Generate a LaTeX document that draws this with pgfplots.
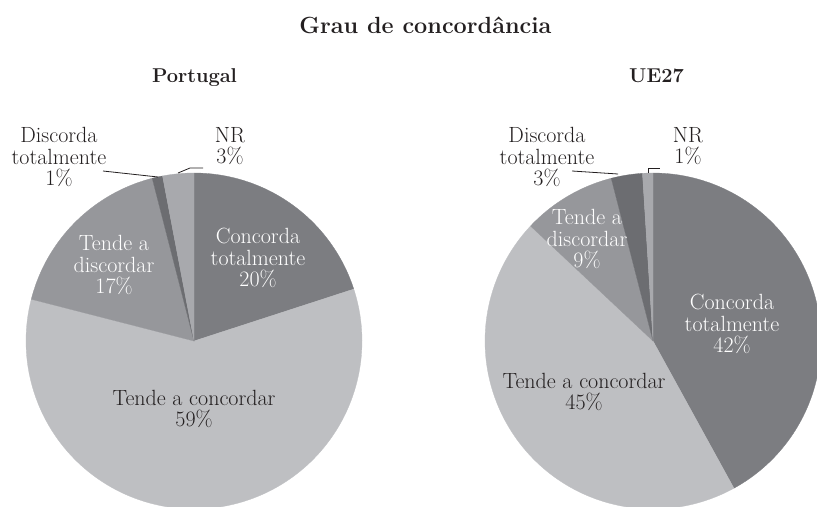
\documentclass[border=0pt]{standalone}
\usepackage{fontspec}
\usepackage{pgfplots}
\pgfplotsset{compat=1.18}
\definecolor{cCT}{RGB}{124,125,129}
\definecolor{cTC}{RGB}{190,191,194}
\definecolor{cTD}{RGB}{150,151,155}
\definecolor{cDT}{RGB}{108,109,113}
\definecolor{cNR}{RGB}{168,169,173}
\definecolor{txt}{RGB}{35,31,32}
\newcommand\slice[3]{% #1 cumulative percent before, #2 percent, #3 colour
  \pgfmathsetmacro\sa{90-3.6*#1}%
  \pgfmathsetmacro\ea{90-3.6*(#1+#2)}%
  \edef\tmp{\noexpand\addplot[fill=#3,draw=#3,line width=0.3bp,domain=\ea:\sa,samples=120]
    ({168*cos(x)},{168*sin(x)}) -- (axis cs:0,0) -- cycle;}\tmp}
\pgfplotsset{pie/.style={hide axis, scale only axis, width=336bp, height=336bp,
  xmin=-168, xmax=168, ymin=-168, ymax=168, clip=false, anchor=origin}}
\tikzset{lab/.style={align=center, font=\fontsize{22bp}{21.2bp}\selectfont, text=txt, inner sep=0pt},
  wlab/.style={lab, text=white},
  lead/.style={draw=txt, line width=0.8bp}}
\begin{document}
\begin{tikzpicture}[x=1bp,y=1bp]
\useasboundingbox (0,0) rectangle (817,-507);
\node[anchor=base, font=\fontsize{23.4bp}{25bp}\selectfont\bfseries, text=txt] at (425.5,-34) {Grau de concordância};
\node[anchor=base, font=\fontsize{20bp}{22bp}\selectfont\bfseries, text=txt] at (194.5,-83) {Portugal};
\node[anchor=base, font=\fontsize{20bp}{22bp}\selectfont\bfseries, text=txt] at (656.5,-83) {UE27};
% Portugal
\begin{axis}[pie, at={(194,-341)}]
\slice{0}{20}{cCT}
\slice{20}{59}{cTC}
\slice{79}{17}{cTD}
\slice{96}{1}{cDT}
\slice{97}{3}{cNR}
\node[wlab] at (axis cs:64,83) {Concorda\\totalmente\\20\%};
\node[lab] at (axis cs:0,-68) {Tende a concordar\\59\%};
\node[wlab] at (axis cs:-80,76) {Tende a\\discordar\\17\%};
\node[lab] at (axis cs:-135,184) {Discorda\\totalmente\\1\%};
\node[lab] at (axis cs:36,195) {NR\\3\%};
\draw[lead] (axis cs:-91,170) -- (axis cs:-36,164);
\draw[lead] (axis cs:-16,168) -- (axis cs:-4,173) -- (axis cs:9,173);
\end{axis}
% UE27
\begin{axis}[pie, at={(653,-341)}]
\slice{0}{42}{cCT}
\slice{42}{45}{cTC}
\slice{87}{9}{cTD}
\slice{96}{3}{cDT}
\slice{99}{1}{cNR}
\node[wlab] at (axis cs:79,17) {Concorda\\totalmente\\42\%};
\node[lab] at (axis cs:-69,-51) {Tende a concordar\\45\%};
\node[wlab] at (axis cs:-66,102) {Tende a\\discordar\\9\%};
\node[lab] at (axis cs:-106,184) {Discorda\\totalmente\\3\%};
\node[lab] at (axis cs:35,195) {NR\\1\%};
\draw[lead] (axis cs:-81,170) -- (axis cs:-35,167);
\draw[lead] (axis cs:-5,168) -- (axis cs:-5,173) -- (axis cs:7,173);
\end{axis}
\end{tikzpicture}
\end{document}
